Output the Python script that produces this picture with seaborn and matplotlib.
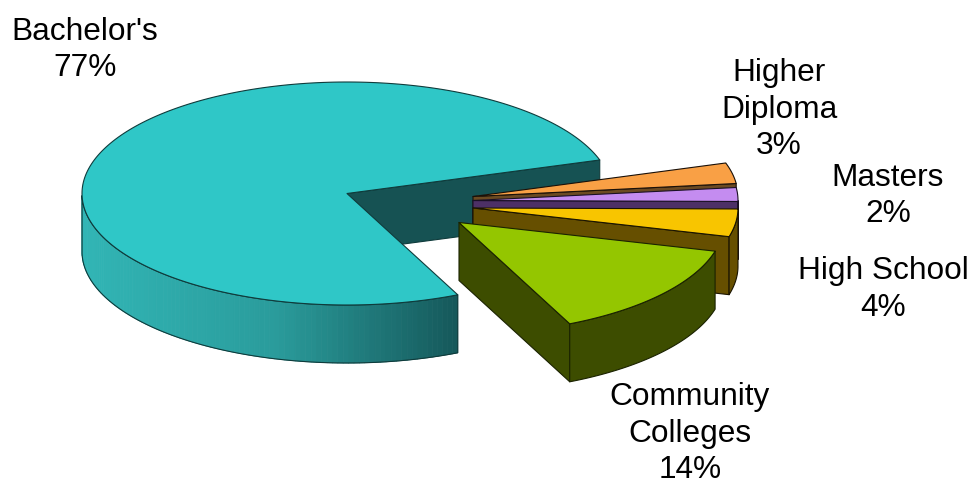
import numpy as np
import matplotlib
matplotlib.use("Agg")
import matplotlib.pyplot as plt
from matplotlib.patches import Polygon
import seaborn as sns

# Share of respondents by highest education level
categories = ["Bachelor's", "Community\nColleges", "High School", "Masters", "Higher\nDiploma"]
shares = [77, 14, 4, 2, 3]

top_colors = ["#2FC7C7", "#94C600", "#F8C500", "#C48CF0", "#F9A045"]
wall_colors = ["#165253", "#3D4D00", "#664F00", "#4D3066", "#6B4A22"]
edge_colors = ["#0F3B3B", "#1A2200", "#1A1400", "#1A1024", "#1A1008"]

# Pie centre of each exploded slice and label anchors, in figure pixels
centers_x = [347, 459, 473, 473, 473]
centers_y = [193.5, 222.5, 208, 200.5, 196.5]
label_x = [85, 690, 883, 888, 779]
label_y = [50, 433.5, 289.5, 196, 109.5]

RX, RY, DEPTH = 265, 111.5, 58
START_ANGLE = 17.5

sns.set_theme(style="white")
plt.rcParams["font.family"] = ["Liberation Sans", "DejaVu Sans"]

fig = plt.figure(figsize=(9.74, 4.86), dpi=100)
ax = fig.add_axes([0, 0, 1, 1])
ax.set_xlim(0, 974)
ax.set_ylim(486, 0)
ax.axis("off")

teal_ramp = sns.blend_palette(["#31B5B5", "#2A9C9C", "#155759"], 120)


def rim(cx, cy, angles):
    rad = np.deg2rad(angles)
    return np.column_stack([cx + RX * np.cos(rad), cy - RY * np.sin(rad)])


def poly(points, face, edge, z, lw=0.8):
    ax.add_patch(Polygon(points, closed=True, facecolor=face, edgecolor=edge,
                         linewidth=lw, joinstyle="round", zorder=z))


def drop(points):
    return points + np.array([0, DEPTH])


def draw_slice(i, a0, a1, z):
    cx, cy = centers_x[i], centers_y[i]
    apex = np.array([cx, cy], dtype=float)
    angles = np.linspace(a0, a1, 240)
    arc = rim(cx, cy, angles)
    face, wall, edge = top_colors[i], wall_colors[i], edge_colors[i]

    # Radial cut face at the slice's starting angle
    first = arc[0]
    poly([apex, first, drop(first), drop(apex)], wall, edge, z)

    # Outer rim wall, visible only where the rim faces the viewer
    front = angles[np.sin(np.deg2rad(angles)) <= 0.0]
    if front.size > 1:
        front_arc = rim(cx, cy, front)
        outline = np.vstack([front_arc, drop(front_arc)[::-1]])
        if i == 0:
            xmin, xmax = front_arc[:, 0].min(), front_arc[:, 0].max()
            for k in range(len(front_arc) - 1):
                quad = [front_arc[k], front_arc[k + 1], drop(front_arc[k + 1]), drop(front_arc[k])]
                frac = (front_arc[k, 0] - xmin) / (xmax - xmin)
                col = teal_ramp[min(int(frac * 119), 119)]
                poly(quad, col, col, z, lw=0.6)
            ax.add_patch(Polygon(outline, closed=True, fill=False, edgecolor=edge,
                                 linewidth=0.8, zorder=z))
        else:
            poly(outline, wall, edge, z)

    # Top surface of the slice
    poly(np.vstack([apex, arc]), face, edge, z + 0.5)


# Painted from the back slice to the front one
angle_edges = START_ANGLE + np.cumsum([0] + [s * 3.6 for s in shares])
spans = list(zip(angle_edges[:-1], angle_edges[1:]))
draw_order = [0, 4, 3, 2, 1]
for z, i in enumerate(draw_order, start=1):
    a0, a1 = spans[i]
    if a0 >= 360:
        a0, a1 = a0 - 360, a1 - 360
    draw_slice(i, a0, a1, z)

for name, share, x, y in zip(categories, shares, label_x, label_y):
    ax.text(x, y, f"{name}\n{share}%", ha="center", va="center", fontsize=22.8,
            color="#000000", linespacing=1.28, zorder=10)

fig.savefig("out.png", dpi=100, facecolor="white")
